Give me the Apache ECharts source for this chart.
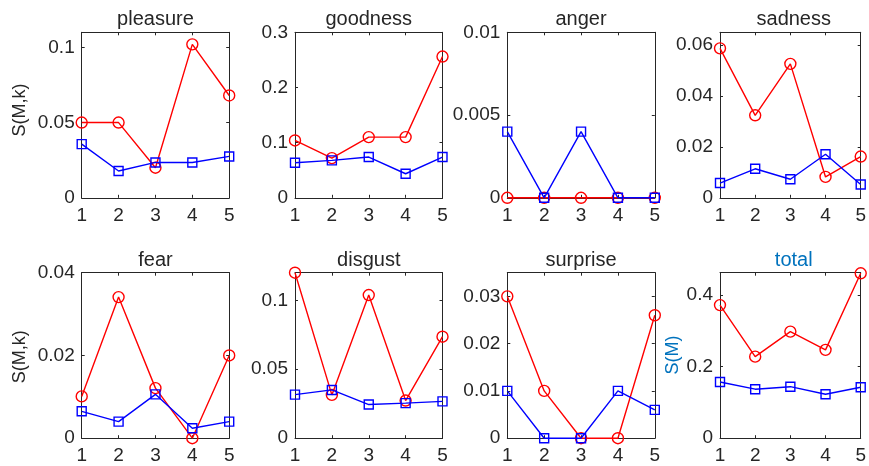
<!DOCTYPE html>
<html>
<head>
<meta charset="utf-8">
<script src="https://cdn.jsdelivr.net/npm/echarts@6/dist/echarts.min.js"></script>
<style>
  html, body { margin: 0; padding: 0; background: #ffffff; }
  #chart { width: 869px; height: 466px; }
</style>
</head>
<body>
<div id="chart"></div>
<script>
// Model index k on the x axis of every panel
const categories = [1, 2, 3, 4, 5];
const xTickLabels = ['1', '2', '3', '4', '5'];

// Panel titles (emotions plus the overall total)
const panelTitles = ['pleasure', 'goodness', 'anger', 'sadness', 'fear', 'disgust', 'surprise', 'total'];

// Red (circles) series per panel
const pleasureRed = [0.050, 0.050, 0.020, 0.102, 0.068];
const goodnessRed = [0.104, 0.072, 0.110, 0.110, 0.256];
const angerRed    = [0, 0, 0, 0, 0];
const sadnessRed  = [0.0587, 0.0324, 0.0526, 0.0082, 0.0162];
const fearRed     = [0.0101, 0.0341, 0.0121, 0.0000, 0.0200];
const disgustRed  = [0.1200, 0.0314, 0.1038, 0.0273, 0.0736];
const surpriseRed = [0.030, 0.010, 0.000, 0.000, 0.026];
const totalRed    = [0.372, 0.228, 0.298, 0.247, 0.461];

// Blue (squares) series per panel
const pleasureBlue = [0.0357, 0.0178, 0.0235, 0.0235, 0.0275];
const goodnessBlue = [0.0636, 0.0678, 0.0739, 0.0436, 0.0739];
const angerBlue    = [0.004, 0, 0.004, 0, 0];
const sadnessBlue  = [0.0058, 0.0114, 0.0073, 0.0171, 0.0052];
const fearBlue     = [0.0065, 0.0040, 0.0106, 0.0024, 0.0040];
const disgustBlue  = [0.0316, 0.0350, 0.0244, 0.0254, 0.0267];
const surpriseBlue = [0.010, 0.000, 0.000, 0.010, 0.006];
const totalBlue    = [0.157, 0.137, 0.144, 0.123, 0.1425];

// Y axis upper limits and tick labels per panel
const yMaxes = [0.11, 0.3, 0.01, 0.065, 0.04, 0.12, 0.035, 0.4626];
const yTickValues = [
  [0, 0.05, 0.1],
  [0, 0.1, 0.2, 0.3],
  [0, 0.005, 0.01],
  [0, 0.02, 0.04, 0.06],
  [0, 0.02, 0.04],
  [0, 0.05, 0.1],
  [0, 0.01, 0.02, 0.03],
  [0, 0.2, 0.4]
];
const yTickLabels = [
  ['0', '0.05', '0.1'],
  ['0', '0.1', '0.2', '0.3'],
  ['0', '0.005', '0.01'],
  ['0', '0.02', '0.04', '0.06'],
  ['0', '0.02', '0.04'],
  ['0', '0.05', '0.1'],
  ['0', '0.01', '0.02', '0.03'],
  ['0', '0.2', '0.4']
];
const yIntervals = [0.05, 0.1, 0.005, 0.02, 0.02, 0.05, 0.01, 0.2];

const redSeries  = [pleasureRed, goodnessRed, angerRed, sadnessRed, fearRed, disgustRed, surpriseRed, totalRed];
const blueSeries = [pleasureBlue, goodnessBlue, angerBlue, sadnessBlue, fearBlue, disgustBlue, surpriseBlue, totalBlue];

// Layout of the 2 x 4 panel grid
const colLefts = [81.7, 295, 507.3, 720];
const rowTops = [32.3, 272.7];
const panelW = 147.5;
const panelH = 165.5;

const INK = '#262626';
const FONT = '"Liberation Sans", Arial, Helvetica, sans-serif';
const TICK_SIZE = 19;
const TITLE_SIZE = 20;
const LABEL_SIZE = 18;
const RED = '#ff0000';
const BLUE = '#0000ff';
const ACCENT = '#0072BD';

const grids = [], xAxes = [], yAxes = [], series = [], graphics = [];

panelTitles.forEach((name, i) => {
  const col = i % 4, row = Math.floor(i / 4);
  const left = colLefts[col], top = rowTops[row];
  grids.push({ left: left, top: top, width: panelW, height: panelH, containLabel: false });

  const axisLine = { show: true, onZero: false, lineStyle: { color: INK, width: 1 } };
  const axisTick = { show: true, inside: true, length: 3, lineStyle: { color: INK, width: 1 } };

  // bottom x axis with labels
  xAxes.push({
    type: 'value', gridIndex: i, position: 'bottom', min: 1, max: 5, interval: 1,
    axisLine: axisLine, axisTick: axisTick, splitLine: { show: false },
    axisLabel: {
      show: true, margin: 8, color: INK, fontFamily: FONT, fontSize: TICK_SIZE,
      formatter: v => { const k = categories.indexOf(Math.round(v)); return k >= 0 ? xTickLabels[k] : ''; }
    }
  });
  // top x axis mirroring the ticks (box outline)
  xAxes.push({
    type: 'value', gridIndex: i, position: 'top', min: 1, max: 5, interval: 1,
    axisLine: axisLine, axisTick: axisTick, splitLine: { show: false }, axisLabel: { show: false }
  });

  const ticks = yTickValues[i], labels = yTickLabels[i];
  const yFormatter = v => {
    for (let t = 0; t < ticks.length; t++) {
      if (Math.abs(v - ticks[t]) < 1e-9) return labels[t];
    }
    return '';
  };
  yAxes.push({
    type: 'value', gridIndex: i, position: 'left', min: 0, max: yMaxes[i], interval: yIntervals[i],
    axisLine: axisLine, axisTick: axisTick, splitLine: { show: false },
    axisLabel: { show: true, margin: 7, color: INK, fontFamily: FONT, fontSize: TICK_SIZE, formatter: yFormatter,
      showMaxLabel: true, showMinLabel: true }
  });
  yAxes.push({
    type: 'value', gridIndex: i, position: 'right', min: 0, max: yMaxes[i], interval: yIntervals[i],
    axisLine: axisLine, axisTick: axisTick, splitLine: { show: false }, axisLabel: { show: false }
  });

  const xIdx = i * 2, yIdx = i * 2;
  series.push({
    type: 'line', xAxisIndex: xIdx, yAxisIndex: yIdx,
    data: categories.map((k, j) => [k, redSeries[i][j]]),
    clip: false, symbol: 'circle', symbolSize: 11,
    lineStyle: { color: RED, width: 1.4 },
    itemStyle: { color: 'rgba(0,0,0,0)', borderColor: RED, borderWidth: 1.4 },
    emphasis: { disabled: true }, z: 2
  });
  series.push({
    type: 'line', xAxisIndex: xIdx, yAxisIndex: yIdx,
    data: categories.map((k, j) => [k, blueSeries[i][j]]),
    clip: false, symbol: 'rect', symbolSize: 9,
    lineStyle: { color: BLUE, width: 1.4 },
    itemStyle: { color: 'rgba(0,0,0,0)', borderColor: BLUE, borderWidth: 1.4 },
    emphasis: { disabled: true }, z: 3
  });

  // panel title
  graphics.push({
    type: 'text', x: left + panelW / 2, y: top - 12.5,
    style: { text: name, fill: name === 'total' ? ACCENT : INK, font: TITLE_SIZE + 'px ' + FONT,
      align: 'center', verticalAlign: 'middle' }
  });
});

// Y axis labels
const yLabelSpecs = [
  { text: 'S(M,k)', x: 20, y: 110, color: INK },
  { text: 'S(M,k)', x: 20, y: 356.7, color: INK },
  { text: 'S(M)', x: 672.7, y: 355, color: ACCENT }
];
yLabelSpecs.forEach(s => {
  graphics.push({
    type: 'text', x: s.x, y: s.y, rotation: Math.PI / 2,
    style: { text: s.text, fill: s.color, font: LABEL_SIZE + 'px ' + FONT, align: 'center', verticalAlign: 'middle' }
  });
});

const chart = echarts.init(document.getElementById('chart'), null, { renderer: 'canvas' });
chart.setOption({
  animation: false,
  backgroundColor: '#ffffff',
  grid: grids,
  xAxis: xAxes,
  yAxis: yAxes,
  series: series,
  graphic: graphics
});
</script>
</body>
</html>
